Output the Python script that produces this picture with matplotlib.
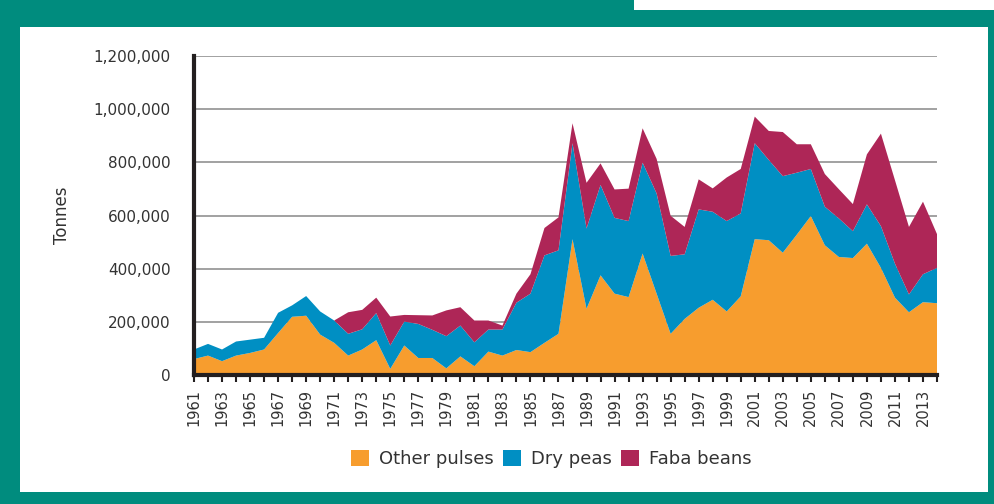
import numpy as np
import matplotlib
matplotlib.use("Agg")
import matplotlib.pyplot as plt
from matplotlib.patches import Rectangle, Patch
from matplotlib.ticker import FuncFormatter, MultipleLocator

# ------------------------------------------------------------------------------
# Data (tonnes)
# ------------------------------------------------------------------------------
years = np.arange(1961, 2015)

other_pulses = np.array([
    60, 73, 52, 73, 83, 96, 158, 219, 223, 152,
    121, 73, 96, 131, 23, 111, 64, 64, 25, 70,
    33, 88, 73, 94, 86, 121, 155, 511, 249, 375,
    306, 293, 457, 306, 155, 211, 253, 283, 239, 296,
    511, 507, 460, 528, 598, 488, 444, 440, 494, 403,
    291, 236, 274, 270]) * 1000

dry_peas = np.array([
    36, 44, 44, 53, 50, 44, 76, 43, 74, 87,
    84, 82, 76, 102, 88, 90, 128, 106, 121, 116,
    90, 83, 98, 178, 220, 329, 314, 361, 302, 340,
    285, 286, 342, 377, 293, 243, 370, 331, 340, 312,
    361, 302, 288, 233, 177, 145, 145, 101, 148, 157,
    128, 67, 105, 133]) * 1000

faba_beans = np.array([
    0, 0, 0, 0, 0, 0, 0, 0, 0, 0,
    0, 81, 73, 58, 109, 25, 33, 54, 97, 69,
    82, 34, 15, 34, 73, 103, 124, 75, 172, 81,
    107, 122, 129, 130, 151, 103, 113, 88, 164, 167,
    100, 109, 166, 107, 93, 123, 110, 102, 188, 348,
    314, 254, 273, 127]) * 1000

series_names = ["Other pulses", "Dry peas", "Faba beans"]
series_colors = ["#F79D2E", "#008FC3", "#AE2657"]

# ------------------------------------------------------------------------------
# Figure and frame
# ------------------------------------------------------------------------------
W, H = 995, 504
teal = "#008C7E"
fig = plt.figure(figsize=(W / 100, H / 100), dpi=100)
fig.patch.set_facecolor(teal)

# white panel and white notch at top right (drawn below the axes)
fig.patches.append(Rectangle((20 / W, 12 / H), 968 / W, 465 / H,
                             transform=fig.transFigure, facecolor="white",
                             edgecolor="none", zorder=-2))
fig.patches.append(Rectangle((634 / W, 494 / H), 361 / W, 10 / H,
                             transform=fig.transFigure, facecolor="white",
                             edgecolor="none", zorder=-2))

# axes: x from 194 to 937 px, y from 56 to 375 px
ax = fig.add_axes([194 / W, 1 - 375 / H, (937 - 194) / W, (375 - 56) / H])
ax.set_facecolor("none")

ax.stackplot(years, other_pulses, dry_peas, faba_beans,
             colors=series_colors, linewidth=0, zorder=2)

ax.set_xlim(1961, 2014)
ax.set_ylim(0, 1200000)
ax.yaxis.set_major_locator(MultipleLocator(200000))
ax.yaxis.set_major_formatter(FuncFormatter(lambda v, p: f"{int(v):,}"))
ax.grid(axis="y", color="#9A9A9A", linewidth=1.3, zorder=1)
ax.set_axisbelow(True)

ax.set_xticks(years[::2])
ax.set_xticks(years, minor=True)
ax.set_xticklabels([str(y) for y in years[::2]], rotation=90)
ax.tick_params(axis="x", which="both", length=5, width=1.5, color="#231F20",
               labelsize=10.5, labelcolor="#333333", pad=5)
ax.tick_params(axis="y", length=0, labelsize=11, labelcolor="#333333", pad=17)

for side in ["top", "right"]:
    ax.spines[side].set_visible(False)
for side in ["left", "bottom"]:
    ax.spines[side].set_linewidth(3)
    ax.spines[side].set_color("#231F20")
    ax.spines[side].set_zorder(3)

fig.text(62 / W, 1 - 215 / H, "Tonnes", rotation=90, ha="center", va="center",
         fontsize=12, color="#333333")

handles = [Patch(facecolor=c, edgecolor="none") for c in series_colors]
fig.legend(handles, series_names, loc="center",
           bbox_to_anchor=(551 / W, 1 - 459 / H),
           ncol=3, frameon=False, fontsize=13, handlelength=1.0, handleheight=1.0,
           handletextpad=0.55, columnspacing=0.5, labelcolor="#333333")

fig.savefig("out.png", dpi=100, facecolor=fig.get_facecolor())
